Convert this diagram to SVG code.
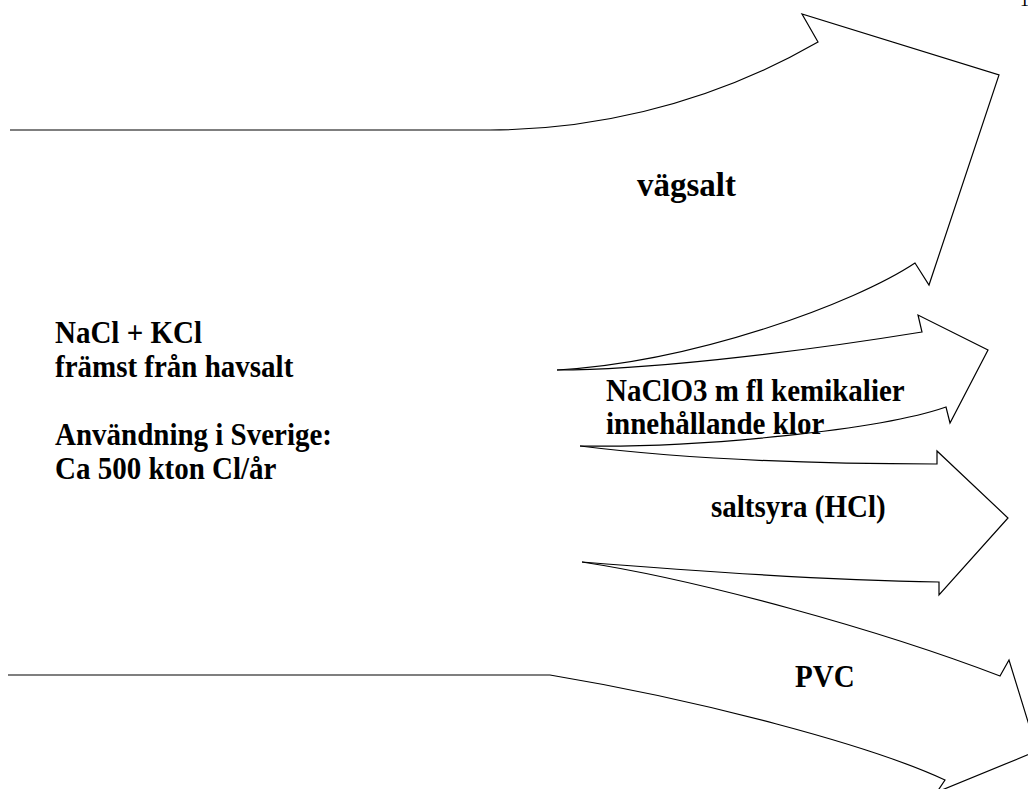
<svg xmlns="http://www.w3.org/2000/svg" width="1028" height="789" viewBox="0 0 1028 789">
<style>
.flow{fill:none;stroke:#000;stroke-width:1.2;stroke-linejoin:miter}
.lbl{font-family:"Liberation Serif","Times New Roman",serif;font-weight:bold;font-size:29px;fill:#000}
.pg{font-family:"Liberation Serif","Times New Roman",serif;font-size:18px;fill:#000}
</style>
<rect width="1028" height="789" fill="#fff"/>
<g id="connectors">
<path id="arrow-vagsalt" class="flow" d="M10,130 L490,130 C580,130 700,110 818,42 L802,14 L999,75 L929,285 L915,263 C855,303 695,362 557,370"/>
<path id="arrow-naclo3" class="flow" d="M557,370 C640,370 780,355 922,332 L918,315 L988,350 L950,423 L946,407 C880,430 700,448 580,446"/>
<path id="arrow-hcl" class="flow" d="M580,446 C660,456 780,464 937,464 L937,451 L1008,518 L939,595 L939,582 C820,580 680,570 582,562"/>
<path id="arrow-pvc" class="flow" d="M582,562 C700,580 880,630 1000,676 L1009,660 L1037,751 L937,792 L945,780 C870,745 700,700 550,675 L8,675"/>
</g>
<g id="source">
<text class="lbl" transform="matrix(1,0,0,1.1,55,343)">NaCl + KCl</text>
<text class="lbl" transform="matrix(1,0,0,1.1,55,377)">främst från havsalt</text>
<text class="lbl" transform="matrix(1,0,0,1.1,55,445)">Användning i Sverige:</text>
<text class="lbl" transform="matrix(1,0,0,1.1,55,479)">Ca 500 kton Cl/år</text>
</g>
<g id="vagsalt"><text class="lbl" x="637" y="196" style="font-size:33px">vägsalt</text></g>
<g id="naclo3">
<text class="lbl" transform="matrix(1,0,0,1.1,606,401)">NaClO3 m fl kemikalier</text>
<text class="lbl" transform="matrix(1,0,0,1.1,606,434)">innehållande klor</text>
</g>
<g id="hcl"><text class="lbl" transform="matrix(1,0,0,1.1,711,517)">saltsyra (HCl)</text></g>
<g id="pvc"><text class="lbl" transform="matrix(1,0,0,1.1,795,687)">PVC</text></g>
<g id="page"><text class="pg" x="1020" y="6">1</text></g>
</svg>
